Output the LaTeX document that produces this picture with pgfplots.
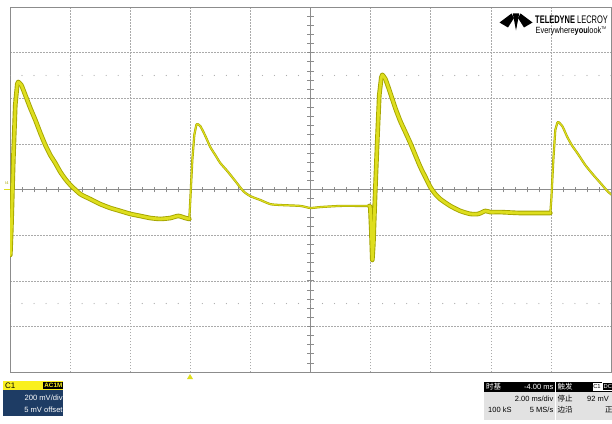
\documentclass[border=0pt]{standalone}
\usepackage{pgfplots}
\pgfplotsset{compat=1.18}
\usepackage{fontspec}
\setmainfont{Liberation Sans}
\newfontfamily\cjk{Noto Sans CJK SC}
\definecolor{tr}{RGB}{222,222,30}
\definecolor{trd}{RGB}{165,165,0}
\definecolor{navy}{RGB}{30,60,100}
\definecolor{hdr}{RGB}{250,240,30}
\definecolor{gridc}{RGB}{170,170,170}
\definecolor{framec}{RGB}{140,140,140}
\definecolor{panel}{RGB}{226,226,226}
\pgfplotsset{
  thickout/.style={trd, line width=4.6pt, line join=round, line cap=round},
  thickin/.style={tr, line width=2.8pt, line join=round, line cap=round},
  thinout/.style={trd, line width=2.2pt, line join=round, line cap=round},
  thinin/.style={tr, line width=1.1pt, line join=round, line cap=round},
}
\pgfplotstableread{
t v
-5.990 -287
-5.957 -178
-5.890 129
-5.824 371
-5.757 463
-5.724 471
}\riseA
\pgfplotstableread{
t v
-5.724 471
-5.624 458
-5.491 414
-5.324 357
-5.158 305
-4.992 248
-4.825 195
-4.659 151
-4.493 116
-4.326 77
-4.160 46
-3.993 20
-3.661 -20
-3.328 -42
-2.995 -64
-2.662 -81
-2.329 -94
-1.997 -107
-1.664 -116
-1.331 -125
-0.998 -129
-0.666 -125
-0.399 -116
-0.166 -125
-0.033 -129
}\decA
\pgfplotstableread{
t v
-0.033 -129
0.000 -46
0.067 129
0.133 239
0.200 283
0.233 287
}\riseB
\pgfplotstableread{
t v
0.233 287
0.333 278
0.499 235
0.666 186
0.832 151
0.998 116
1.231 81
1.498 37
1.764 -7
1.997 -29
2.329 -46
2.662 -64
2.995 -68
3.661 -72
3.993 -81
4.326 -77
4.992 -72
5.657 -72
5.957 -72
}\decB
\pgfplotstableread{
t v
5.957 -72
5.990 -77
6.023 -178
6.057 -309
6.090 -243
6.156 -2
6.223 217
6.289 414
6.356 491
6.389 502
}\riseC
\pgfplotstableread{
t v
6.389 502
6.489 485
6.656 423
6.822 357
6.988 300
7.155 252
7.321 204
7.488 151
7.654 99
7.820 55
7.987 11
8.153 -20
8.319 -42
8.652 -72
8.985 -94
9.318 -107
9.584 -107
9.817 -94
9.983 -99
10.316 -99
10.982 -103
11.647 -103
11.980 -103
}\decC
\pgfplotstableread{
t v
11.980 -103
12.013 -46
12.080 129
12.146 261
12.213 292
12.246 296
}\riseD
\pgfplotstableread{
t v
12.246 296
12.379 278
12.546 230
12.712 191
12.879 160
13.145 107
13.411 64
13.644 29
13.910 -11
14.077 -28
}\decD
\begin{document}
\begin{tikzpicture}[x=1pt,y=1pt]
\useasboundingbox (-10,-51) rectangle (602,372);
\fill[white] (-10,-51) rectangle (602,372);
\begin{axis}[at={(0,0)}, anchor=south west, scale only axis,
  width=601pt, height=365pt,
  xmin=-6, xmax=14, ymin=-800, ymax=800,
  xtick={-4,-2,...,12}, ytick={-600,-400,...,600},
  xticklabels={}, yticklabels={}, major tick length=0pt,
  grid=major,
  major grid style={gridc, dash pattern=on 1.5pt off 1.5pt, line width=0.5pt},
  axis line style={framec, line width=0.8pt},
  clip=true]
% centre axes
\draw[framec, line width=0.7pt] (axis cs:4,-800) -- (axis cs:4,800);
\draw[framec, line width=0.7pt] (axis cs:-6,0) -- (axis cs:14,0);
\pgfplotsinvokeforeach{0,...,50}{
  \draw[framec, line width=0.6pt] (axis cs:{-6+0.4*#1},-13) -- (axis cs:{-6+0.4*#1},13);
  \fill[gridc] (axis cs:{-6+0.4*#1},500) circle (0.6pt);
  \fill[gridc] (axis cs:{-6+0.4*#1},-500) circle (0.6pt);
}
\pgfplotsinvokeforeach{0,...,40}{
  \draw[framec, line width=0.6pt] (axis cs:3.9,{-800+40*#1}) -- (axis cs:4.1,{-800+40*#1});
}
% outer bands
\addplot[thickout] table {\riseA};
\addplot[thickout, smooth, tension=0.4] table {\decA};
\addplot[thinout] table {\riseB};
\addplot[thinout, smooth, tension=0.4] table {\decB};
\addplot[thickout] table {\riseC};
\addplot[thickout, smooth, tension=0.4] table {\decC};
\addplot[thinout] table {\riseD};
\addplot[thinout, smooth, tension=0.4] table {\decD};
% inner bands
\addplot[thickin] table {\riseA};
\addplot[thickin, smooth, tension=0.4] table {\decA};
\addplot[thinin] table {\riseB};
\addplot[thinin, smooth, tension=0.4] table {\decB};
\addplot[thickin] table {\riseC};
\addplot[thickin, smooth, tension=0.4] table {\decC};
\addplot[thinin] table {\riseD};
\addplot[thinin, smooth, tension=0.4] table {\decD};
\end{axis}
% annotations, in image pixel coordinates
\begin{scope}[shift={(-10,372)}, yscale=-1]
% trigger marker and channel marker
\fill[tr] (187,379) -- (193,379) -- (190,374) -- cycle;
\draw[tr, line width=1pt] (4,189.5) -- (10,189.5);
\node[text=trd, font=\fontsize{4}{4}\selectfont, inner sep=0pt] at (7,183) {I4};
% C1 panel
\fill[hdr] (3,381) rectangle (63,390);
\fill[navy] (3,390) rectangle (63,416);
\fill[black] (43,381.7) rectangle (62.5,389.3);
\node[anchor=west, inner sep=0pt, font=\fontsize{8}{8}\selectfont] at (5,385.7) {C1};
\node[anchor=east, inner sep=0pt, text=hdr, font=\fontsize{6.3}{6.3}\selectfont\bfseries] at (62.5,385.6) {AC1M};
\node[anchor=east, inner sep=0pt, text=white, font=\fontsize{7.6}{7.6}\selectfont] at (62.8,397.5) {200 mV/div};
\node[anchor=east, inner sep=0pt, text=white, font=\fontsize{7.6}{7.6}\selectfont] at (62.8,409.5) {5 mV offset};
% timebase panel
\fill[black] (484,381.5) rectangle (554.5,391.5);
\fill[panel] (484,391.5) rectangle (554.5,420);
\node[anchor=west, inner sep=0pt, text=white, font=\fontsize{7.5}{7.5}\selectfont\cjk] at (486,386.5) {时基};
\node[anchor=east, inner sep=0pt, text=white, font=\fontsize{7.5}{7.5}\selectfont] at (553.5,386.5) {-4.00 ms};
\node[anchor=east, inner sep=0pt, font=\fontsize{7.5}{7.5}\selectfont] at (553.5,399) {2.00 ms/div};
\node[anchor=west, inner sep=0pt, font=\fontsize{7.5}{7.5}\selectfont] at (488,409.5) {100 kS};
\node[anchor=east, inner sep=0pt, font=\fontsize{7.5}{7.5}\selectfont] at (553.5,409.5) {5 MS/s};
% trigger panel
\fill[black] (556,381.5) rectangle (613,391.5);
\fill[panel] (556,391.5) rectangle (613,420);
\node[anchor=west, inner sep=0pt, text=white, font=\fontsize{7.5}{7.5}\selectfont\cjk] at (557.5,386.5) {触发};
\fill[white] (592.5,382.5) rectangle (601.5,390.5);
\node[inner sep=0pt, font=\fontsize{5.8}{5.8}\selectfont] at (597,386.5) {C1};
\draw[white, line width=0.5pt] (602.5,382.5) rectangle (613,390.5);
\node[anchor=west, inner sep=0pt, text=white, font=\fontsize{5.8}{5.8}\selectfont] at (603.5,386.5) {DC};
\node[anchor=west, inner sep=0pt, font=\fontsize{7.5}{7.5}\selectfont\cjk] at (557.5,399) {停止};
\node[anchor=west, inner sep=0pt, font=\fontsize{7.5}{7.5}\selectfont] at (587,399) {92 mV};
\node[anchor=west, inner sep=0pt, font=\fontsize{7.5}{7.5}\selectfont\cjk] at (557.5,409.5) {边沿};
\node[anchor=west, inner sep=0pt, font=\fontsize{7.5}{7.5}\selectfont\cjk] at (605,409.5) {正};
% logo
\fill[black] (499.5,22.5) -- (511.5,13.5) -- (514,18) -- (508,27.5) -- cycle;
\fill[black] (532.5,22.5) -- (520.5,13.5) -- (518,18) -- (524,27.5) -- cycle;
\fill[black] (512.8,13.5) -- (519.2,13.5) -- (516,30.5) -- cycle;
\node[anchor=west, inner sep=0pt] at (535,19.5) {\scalebox{0.68}[1]{\fontsize{11}{11}\selectfont\textbf{TELEDYNE} LECROY}};
\node[anchor=west, inner sep=0pt] at (535.5,31) {\scalebox{0.82}[1]{\fontsize{9}{9}\selectfont Everywhere\textbf{you}look\textsuperscript{\fontsize{4}{4}\selectfont TM}}};
\end{scope}
\end{tikzpicture}
\end{document}
